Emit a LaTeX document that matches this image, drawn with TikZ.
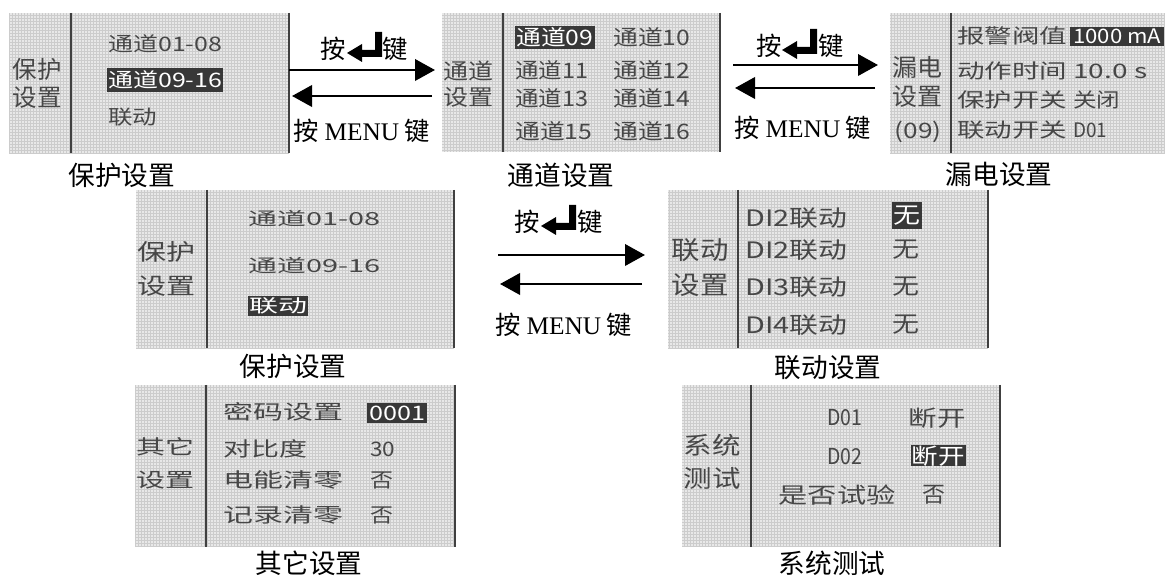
\documentclass[tikz,border=0pt]{standalone}
\usepackage{fontspec}
\usepackage{graphicx}
\usetikzlibrary{arrows.meta}
\setmainfont{Liberation Serif}
\newfontfamily\cjk{Noto Sans CJK SC}
\newcommand\rw[2]{\resizebox{\dimexpr#1pt*3/4\relax}{\height}{#2}}
\tikzset{
  panelbg/.style={fill=black!9},
  gridln/.style={draw=black!20, line width=0.2pt},
  sepline/.style={draw=black!75, line width=1.3pt},
  hl/.style={fill=black!78},
  lcd/.style={inner sep=0pt, text=black!72, font=\cjk\fontsize{#1}{#1}\selectfont},
  captxt/.style={inner sep=0pt, font=\cjk\fontsize{20}{20}\selectfont},
  akey/.style={inner sep=0pt, font=\cjk\fontsize{19}{19}\selectfont},
  arr/.style={line width=2pt, -{Triangle[length=15pt,width=16pt]}},
  enterkey/.pic={\fill (0,0) -- (15,-9) -- (15,-3) -- (28,-3) -- (28,-21) -- (35,-21) -- (35,4) -- (15,4) -- (15,9) -- cycle;}
}
\begin{document}
\begin{tikzpicture}[x=0.75pt, y=-0.75pt]
\useasboundingbox (0,0) rectangle (1165,577);

% ---------- Panel 1: 保护设置 ----------
\fill[panelbg] (9,13) rectangle (289,153);
\draw[gridln, step=2.25pt] (9,13) grid (289,153);
\draw[sepline] (71,13) -- (71,153);
\draw[sepline] (289,13) -- (289,153);
\node[lcd=18] (p1l1) at (37,69) {\rw{49}{保护}};
\node[lcd=18] (p1l2) at (37,98) {\rw{49}{设置}};
\node[lcd=15, anchor=west] (p1i1) at (108,44) {\rw{114}{通道01-08}};
\fill[hl] (107,68) rectangle (223,92);
\node[lcd=15, anchor=west, text=white] (p1i2) at (108,80) {\rw{114}{通道09-16}};
\node[lcd=15, anchor=west] (p1i3) at (108,117) {\rw{49}{联动}};
\node[captxt] (c1) at (122,175) {保护设置};

% ---------- Arrows 1 ----------
\coordinate (a1a) at (289,70); \coordinate (a1b) at (435,70);
\coordinate (a1c) at (432,96); \coordinate (a1d) at (292,96);
\draw[arr] (a1a) -- (a1b);
\draw[arr] (a1c) -- (a1d);
\node[akey] (k1a) at (333,49) {按};
\pic at (347,53) {enterkey};
\node[akey] (k1b) at (395,49) {键};
\node[akey] (m1) at (362,131) {按 {\rmfamily MENU} 键};

% ---------- Panel 2: 通道设置 ----------
\fill[panelbg] (442,13) rectangle (720,152);
\draw[gridln, step=2.25pt] (442,13) grid (720,152);
\draw[sepline] (503,13) -- (503,152);
\draw[sepline] (720,13) -- (720,152);
\node[lcd=16.5] (p2l1) at (468,71) {\rw{50}{通道}};
\node[lcd=16.5] (p2l2) at (468,97) {\rw{50}{设置}};
\fill[hl] (515,26) rectangle (595,49);
\node[lcd=16, anchor=west, text=white] (p2a) at (516,37) {\rw{77}{通道09}};
\node[lcd=16, anchor=west] (p2b) at (515,70) {\rw{73}{通道11}};
\node[lcd=16, anchor=west] (p2c) at (515,98) {\rw{73}{通道13}};
\node[lcd=16, anchor=west] (p2d) at (515,131) {\rw{77}{通道15}};
\node[lcd=16, anchor=west] (p2e) at (613,37) {\rw{77}{通道10}};
\node[lcd=16, anchor=west] (p2f) at (613,70) {\rw{77}{通道12}};
\node[lcd=16, anchor=west] (p2g) at (613,98) {\rw{77}{通道14}};
\node[lcd=16, anchor=west] (p2h) at (613,131) {\rw{77}{通道16}};
\node[captxt] (c2) at (561,175) {通道设置};

% ---------- Arrows 2 ----------
\coordinate (a2a) at (733,65); \coordinate (a2b) at (878,65);
\coordinate (a2c) at (875,88); \coordinate (a2d) at (735,88);
\draw[arr] (a2a) -- (a2b);
\draw[arr] (a2c) -- (a2d);
\node[akey] (k2a) at (769,46) {按};
\pic at (782,50) {enterkey};
\node[akey] (k2b) at (831,46) {键};
\node[akey] (m2) at (803,128) {按 {\rmfamily MENU} 键};

% ---------- Panel 3: 漏电设置 ----------
\fill[panelbg] (890,13) rectangle (1165,153);
\draw[gridln, step=2.25pt] (890,13) grid (1165,153);
\draw[sepline] (951,13) -- (951,153);
\node[lcd=18] (p3l1) at (917,67) {\rw{50}{漏电}};
\node[lcd=18] (p3l2) at (917,97) {\rw{50}{设置}};
\node[lcd=16] (p3l3) at (918,132) {\rw{47}{(09)}};
\node[lcd=15, anchor=west] (p3i1) at (957,36) {\rw{110}{报警阀值}};
\node[lcd=15, anchor=west] (p3i2) at (957,71) {\rw{110}{动作时间}};
\node[lcd=15, anchor=west] (p3i3) at (957,100) {\rw{110}{保护开关}};
\node[lcd=15, anchor=west] (p3i4) at (957,130) {\rw{110}{联动开关}};
\fill[hl] (1070,27) rectangle (1164,46);
\node[lcd=15, anchor=west, text=white] (p3v1) at (1073,36) {\rw{88}{1000 mA}};
\node[lcd=15, anchor=west] (p3v2) at (1073,71) {\rw{74}{10.0 s}};
\node[lcd=15, anchor=west] (p3v3) at (1073,100) {\rw{47}{关闭}};
\node[lcd=15, anchor=west] (p3v4) at (1073,130) {\rw{34}{D01}};
\node[captxt] (c3) at (999,174) {漏电设置};

% ---------- Panel 4: 保护设置 ----------
\fill[panelbg] (136,190) rectangle (454,348);
\draw[gridln, step=2.25pt] (136,190) grid (454,348);
\draw[sepline] (207,190) -- (207,348);
\draw[sepline] (454,190) -- (454,348);
\node[lcd=17] (p4l1) at (166,252) {\rw{58}{保护}};
\node[lcd=17] (p4l2) at (166,286) {\rw{58}{设置}};
\node[lcd=13.5, anchor=west] (p4i1) at (248,219) {\rw{132}{通道01-08}};
\node[lcd=13.5, anchor=west] (p4i2) at (248,266) {\rw{132}{通道09-16}};
\fill[hl] (248,296) rectangle (308,316);
\node[lcd=13.5, anchor=west, text=white] (p4i3) at (249,306) {\rw{58}{联动}};
\node[captxt] (c4) at (293,366) {保护设置};

% ---------- Arrows 3 ----------
\coordinate (a3a) at (498,255); \coordinate (a3b) at (645,255);
\coordinate (a3c) at (642,284); \coordinate (a3d) at (500,284);
\draw[arr] (a3a) -- (a3b);
\draw[arr] (a3c) -- (a3d);
\node[akey] (k3a) at (527,222) {按};
\pic at (541,226) {enterkey};
\node[akey] (k3b) at (590,222) {键};
\node[akey] (m3) at (564,325) {按 {\rmfamily MENU} 键};

% ---------- Panel 5: 联动设置 ----------
\fill[panelbg] (668,190) rectangle (988,348);
\draw[gridln, step=2.25pt] (668,190) grid (988,348);
\draw[sepline] (738,190) -- (738,348);
\draw[sepline] (988,190) -- (988,348);
\node[lcd=19] (p5l1) at (700,250) {\rw{57}{联动}};
\node[lcd=19] (p5l2) at (700,285) {\rw{57}{设置}};
\node[lcd=17, anchor=west] (p5i1) at (745,218) {\rw{102}{DI2联动}};
\node[lcd=17, anchor=west] (p5i2) at (745,250) {\rw{102}{DI2联动}};
\node[lcd=17, anchor=west] (p5i3) at (745,287) {\rw{102}{DI3联动}};
\node[lcd=17, anchor=west] (p5i4) at (745,325) {\rw{102}{DI4联动}};
\fill[hl] (892,202) rectangle (922,229);
\node[lcd=17, text=white] (p5v1) at (907,216) {\rw{27}{无}};
\node[lcd=17] (p5v2) at (906,250) {\rw{27}{无}};
\node[lcd=17] (p5v3) at (906,287) {\rw{27}{无}};
\node[lcd=17] (p5v4) at (906,325) {\rw{27}{无}};
\node[captxt] (c5) at (828,368) {联动设置};

% ---------- Panel 6: 其它设置 ----------
\fill[panelbg] (135,385) rectangle (455,547);
\draw[gridln, step=2.25pt] (135,385) grid (455,547);
\draw[sepline] (206,385) -- (206,547);
\draw[sepline] (455,385) -- (455,547);
\node[lcd=15] (p6l1) at (165,447) {\rw{58}{其它}};
\node[lcd=15] (p6l2) at (165,480) {\rw{58}{设置}};
\node[lcd=15, anchor=west] (p6i1) at (223,412) {\rw{120}{密码设置}};
\node[lcd=15, anchor=west] (p6i2) at (223,449) {\rw{84}{对比度}};
\node[lcd=15, anchor=west] (p6i3) at (223,480) {\rw{120}{电能清零}};
\node[lcd=15, anchor=west] (p6i4) at (223,515) {\rw{120}{记录清零}};
\fill[hl] (367,403) rectangle (427,423);
\node[lcd=15, anchor=west, text=white] (p6v1) at (369,413) {\rw{56}{0001}};
\node[lcd=15, anchor=west] (p6v2) at (370,449) {\rw{25}{30}};
\node[lcd=15, anchor=west] (p6v3) at (370,480) {\rw{23}{否}};
\node[lcd=15, anchor=west] (p6v4) at (370,515) {\rw{23}{否}};
\node[captxt] (c6) at (309,563) {其它设置};

% ---------- Panel 7: 系统测试 ----------
\fill[panelbg] (682,385) rectangle (1000,547);
\draw[gridln, step=2.25pt] (682,385) grid (1000,547);
\draw[sepline] (751,385) -- (751,547);
\draw[sepline] (1000,385) -- (1000,547);
\node[lcd=18] (p7l1) at (712,445) {\rw{57}{系统}};
\node[lcd=18] (p7l2) at (712,478) {\rw{57}{测试}};
\node[lcd=16.5] (p7i1) at (845,418) {\rw{35}{D01}};
\node[lcd=16.5] (p7i2) at (845,457) {\rw{35}{D02}};
\node[lcd=16.5] (p7i3) at (837,495) {\rw{117}{是否试验}};
\node[lcd=16.5] (p7v1) at (937,418) {\rw{57}{断开}};
\fill[hl] (911,445) rectangle (966,466);
\node[lcd=16.5, text=white] (p7v2) at (938,456) {\rw{53}{断开}};
\node[lcd=16.5] (p7v3) at (934,495) {\rw{23}{否}};
\node[captxt] (c7) at (832,563) {系统测试};
\end{tikzpicture}
\end{document}
